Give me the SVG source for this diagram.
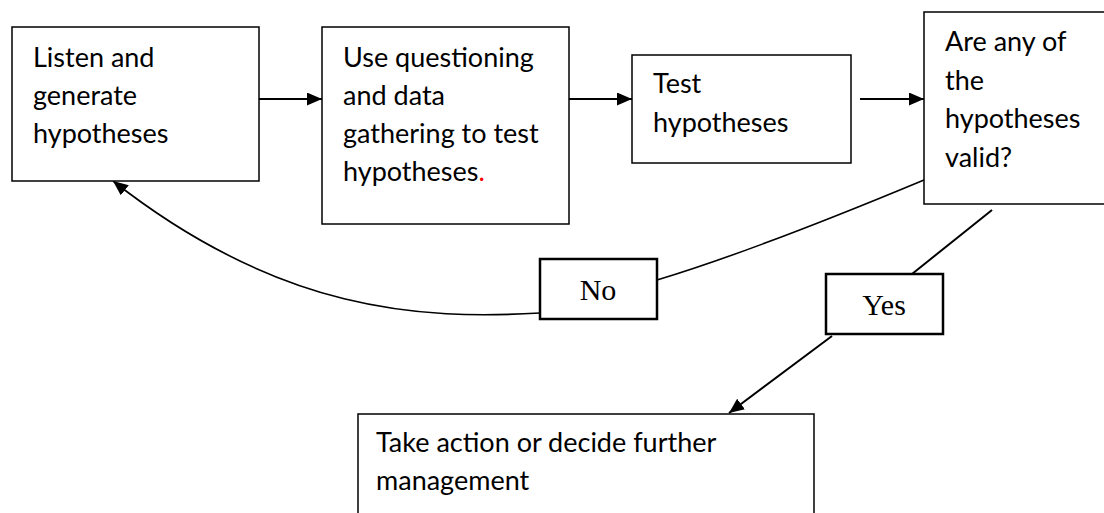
<svg xmlns="http://www.w3.org/2000/svg" width="1104" height="513" viewBox="0 0 1104 513">
  <style>
    .box { fill: #ffffff; stroke: #000000; stroke-width: 1.5; }
    .tag { fill: #ffffff; stroke: #000000; stroke-width: 2.5; }
    .txt { font-family: "Lato", "Liberation Sans", sans-serif; font-size: 27px; fill: #000000; }
    .lbl { font-family: "Liberation Serif", serif; font-size: 30px; fill: #000000; text-anchor: middle; }
    .flow { fill: none; stroke: #000000; stroke-width: 2; }
    .thin { fill: none; stroke: #000000; stroke-width: 1.6; }
  </style>
  <defs>
    <marker id="arrow" markerUnits="userSpaceOnUse" markerWidth="16" markerHeight="14" refX="15" refY="6.5" orient="auto">
      <path d="M0,0 L15,6.5 L0,13 Z" fill="#000000"/>
    </marker>
  </defs>

  <rect width="1104" height="513" fill="#ffffff"/>

  <!-- connectors -->
  <g id="connectors">
    <line class="flow" x1="259" y1="99" x2="322" y2="99" marker-end="url(#arrow)"/>
    <line class="flow" x1="569" y1="99" x2="632" y2="99" marker-end="url(#arrow)"/>
    <line class="flow" x1="860" y1="99" x2="924" y2="99" marker-end="url(#arrow)"/>
    <!-- "No" branch back to the first step -->
    <path class="thin" d="M924,180 C840,215 740,255 657,280"/>
    <path class="thin" d="M540,313 C420,320 280,312 113,181" marker-end="url(#arrow)"/>
    <!-- "Yes" branch down to the action step -->
    <line class="flow" x1="992" y1="210" x2="912" y2="274"/>
    <line class="flow" x1="832" y1="336" x2="729" y2="413" marker-end="url(#arrow)"/>
  </g>

  <g id="listen">
    <rect class="box" x="12" y="27" width="247" height="154"/>
    <text class="txt" x="33" y="67">Listen and</text>
    <text class="txt" x="33" y="105">generate</text>
    <text class="txt" x="33" y="143">hypotheses</text>
  </g>

  <g id="questioning">
    <rect class="box" x="322" y="27" width="247" height="197"/>
    <text class="txt" x="343" y="67">Use questioning</text>
    <text class="txt" x="343" y="105">and data</text>
    <text class="txt" x="343" y="143">gathering to test</text>
    <text class="txt" x="343" y="181">hypotheses<tspan fill="#ff0000">.</tspan></text>
  </g>

  <g id="test">
    <rect class="box" x="632" y="55" width="219" height="108"/>
    <text class="txt" x="653" y="93">Test</text>
    <text class="txt" x="653" y="132">hypotheses</text>
  </g>

  <g id="valid">
    <rect class="box" x="924" y="12" width="200" height="192"/>
    <text class="txt" x="945" y="51">Are any of</text>
    <text class="txt" x="945" y="90">the</text>
    <text class="txt" x="945" y="128">hypotheses</text>
    <text class="txt" x="945" y="167">valid?</text>
  </g>

  <g id="no">
    <rect class="tag" x="540" y="259" width="117" height="60"/>
    <text class="lbl" x="598" y="300">No</text>
  </g>

  <g id="yes">
    <rect class="tag" x="826" y="274" width="117" height="60"/>
    <text class="lbl" x="884" y="315">Yes</text>
  </g>

  <g id="action">
    <rect class="box" x="358" y="414" width="456" height="130"/>
    <text class="txt" x="376" y="452">Take action or decide further</text>
    <text class="txt" x="376" y="490">management</text>
  </g>
</svg>
